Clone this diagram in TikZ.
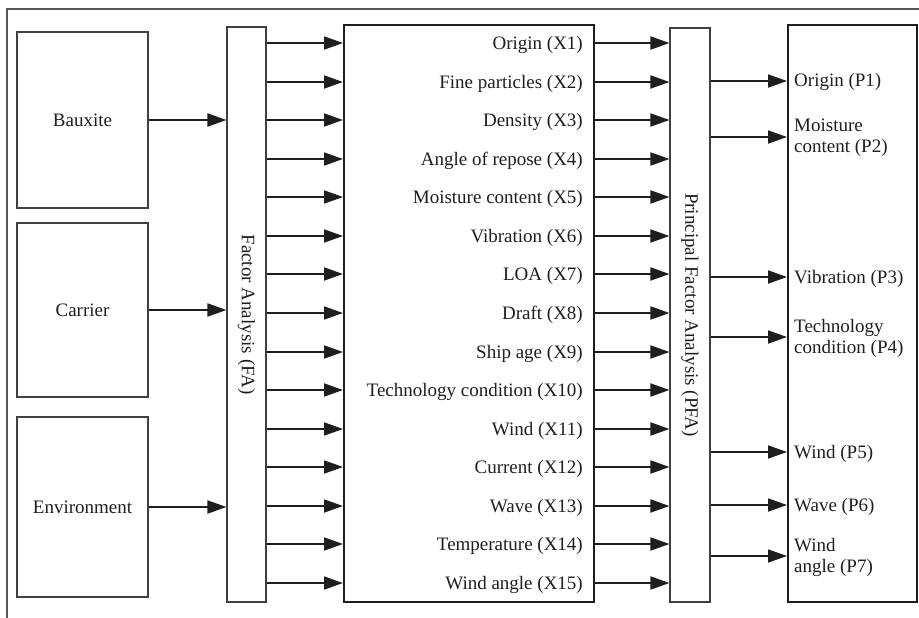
\documentclass[tikz,border=0pt]{standalone}
\usepackage{fontspec}
\setmainfont{Liberation Serif}
\usetikzlibrary{arrows.meta}
\definecolor{ink}{HTML}{1E1E1E}
\definecolor{framegray}{HTML}{555555}

\begin{document}
\begin{tikzpicture}[x=1pt,y=-1pt,
  every node/.style={font=\fontsize{19}{21}\selectfont, text=ink},
  thinbox/.style={draw=ink!85, line width=1.1pt, inner sep=0pt},
  thickbox/.style={draw=ink, line width=2pt, inner sep=0pt},
  lbl/.style={inner sep=0pt},
  arr/.style={draw=ink, line width=1.8pt, -{Triangle[length=19pt,width=13pt]}},
]
\useasboundingbox (0,0) rectangle (919,618);
% outer frame (top and left edges)
\draw[framegray, line width=1.2pt] (7,618) -- (7,9) -- (919,9);

% source boxes
\node[thinbox, minimum width=131pt, minimum height=176pt] (baux) at (82.5,120) {Bauxite};
\node[thinbox, minimum width=131pt, minimum height=174pt] (carr) at (82.5,310) {Carrier};
\node[thinbox, minimum width=131pt, minimum height=180pt] (env) at (82.5,507) {Environment};

% analysis bars
\node[thinbox, minimum width=39pt, minimum height=575pt] (fa) at (246.5,314.5) {};
\node[rotate=-90] (falab) at (fa.center) {Factor Analysis (FA)};
\node[thinbox, minimum width=40pt, minimum height=574pt] (pfa) at (690,315) {};
\node[rotate=-90] (pfalab) at (pfa.center) {Principal Factor Analysis (PFA)};

% factor list and principal factor boxes
\node[thickbox, minimum width=250pt, minimum height=577pt] (mid) at (469,313.5) {};
\node[thickbox, minimum width=129pt, minimum height=577pt] (res) at (852.5,313.5) {};

% inputs into factor analysis
\draw[arr] (baux.east) -- (fa.west |- baux.east);
\draw[arr] (carr.east) -- (fa.west |- carr.east);
\draw[arr] (env.east) -- (fa.west |- env.east);

% the fifteen factors
\foreach \i/\lab in {1/Origin (X1), 2/Fine particles (X2), 3/Density (X3),
  4/Angle of repose (X4), 5/Moisture content (X5), 6/Vibration (X6),
  7/LOA (X7), 8/Draft (X8), 9/Ship age (X9), 10/Technology condition (X10),
  11/Wind (X11), 12/Current (X12), 13/Wave (X13), 14/Temperature (X14),
  15/Wind angle (X15)} {
  \pgfmathsetmacro\yy{round(43+(\i-1)*38.57)}
  \coordinate (r\i) at (0,\yy);
  \node[lbl, anchor=base east] (x\i) at (583,{\yy+6.5}) {\lab};
  \draw[arr] (fa.east |- r\i) -- (mid.west |- r\i);
  \draw[arr] (mid.east |- r\i) -- (pfa.west |- r\i);
}

% principal factors
\foreach \i/\yy in {1/81, 2/137, 3/277, 4/337, 5/452, 6/505, 7/556} {
  \coordinate (q\i) at (0,\yy);
  \draw[arr] (pfa.east |- q\i) -- (res.west |- q\i);
}
\node[lbl, anchor=base west] (p1) at (794,87) {Origin (P1)};
\node[lbl, anchor=west, align=left] (p2) at (794,138) {Moisture\\content (P2)};
\node[lbl, anchor=base west] (p3) at (794,283) {Vibration (P3)};
\node[lbl, anchor=west, align=left] (p4) at (794,338) {Technology\\condition (P4)};
\node[lbl, anchor=base west] (p5) at (794,458) {Wind (P5)};
\node[lbl, anchor=base west] (p6) at (794,511) {Wave (P6)};
\node[lbl, anchor=west, align=left] (p7) at (794,557) {Wind\\angle (P7)};
\end{tikzpicture}
\end{document}
